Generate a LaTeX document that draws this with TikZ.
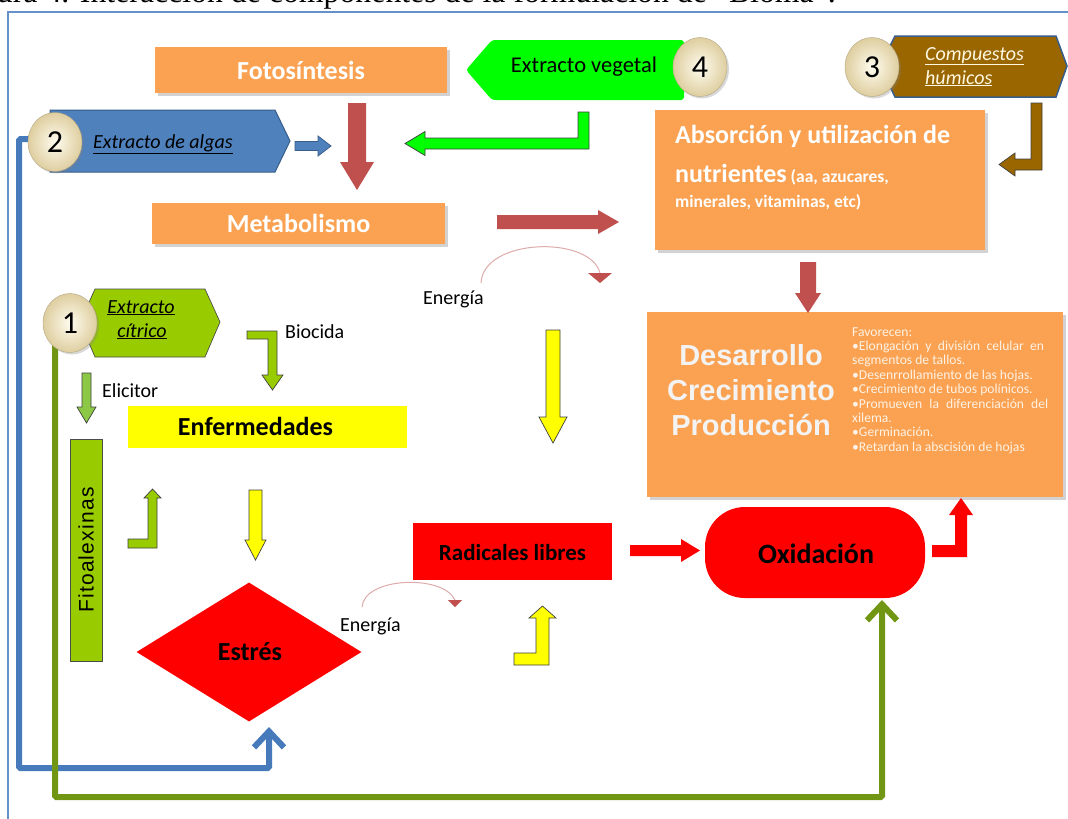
\documentclass[tikz,border=0pt]{standalone}
\usepackage{fontspec}
\setmainfont{Carlito}
\newfontfamily\arialf{Liberation Sans}
\newfontfamily\timesf{Liberation Serif}
\newfontfamily\fitof{Liberation Sans}[LetterSpace=6.0]
\usetikzlibrary{shapes.geometric,arrows.meta,shadows}
\definecolor{orng}{RGB}{250,162,82}
\definecolor{dred}{RGB}{192,80,77}
\definecolor{algablue}{RGB}{79,129,189}
\definecolor{algaedge}{RGB}{56,93,138}
\definecolor{lineblue}{RGB}{70,122,186}
\definecolor{olive}{RGB}{112,150,20}
\definecolor{lime}{RGB}{153,204,0}
\definecolor{elic}{RGB}{140,200,70}
\definecolor{vgreen}{RGB}{0,255,0}
\definecolor{brwn}{RGB}{153,102,0}
\definecolor{yell}{RGB}{255,255,0}
\definecolor{rred}{RGB}{255,0,0}
\definecolor{cream}{RGB}{255,252,238}
\definecolor{creamedge}{RGB}{222,206,160}
\definecolor{frameblue}{RGB}{100,145,200}
\definecolor{whitish}{RGB}{243,243,243}
\definecolor{paletxt}{RGB}{255,242,228}
\definecolor{arcpink}{RGB}{222,170,170}
\definecolor{humtxt}{RGB}{255,248,225}
\begin{document}
\begin{tikzpicture}[x=1pt,y=-1pt,
  box/.style={fill=orng, inner sep=0pt, text=white,
    drop shadow={shadow xshift=2.5pt,shadow yshift=-2.5pt,opacity=.35}},
  blk/.style={draw=black!75, line width=0.7pt, line join=miter},
  circ/.style={ellipse, minimum width=54pt, minimum height=59pt, inner sep=0pt,
    inner color=cream, outer color=creamedge, draw=creamedge!80!black, line width=0.4pt,
    font=\fontsize{32}{36}\selectfont,
    drop shadow={shadow xshift=2pt,shadow yshift=-2pt,opacity=.3}},
  thickln/.style={line width=6pt, rounded corners=1.5pt, -{Straight Barb[length=16pt,width=30pt]}},
  bigb/.style={font=\bfseries\fontsize{26}{30}\selectfont},
  lbl/.style={font=\fontsize{20}{24}\selectfont},
  dtxt/.style={anchor=base west, inner sep=0pt, text=paletxt, font=\fontsize{13.6}{14.4}\selectfont},
  bigd/.style={anchor=base, inner sep=0pt, text=whitish, font=\arialf\bfseries\fontsize{29}{35}\selectfont}
]
\useasboundingbox (0,0) rectangle (1068,819);
\fill[white] (0,0) rectangle (1068,819);
% caption (cut at top) and frame
\node[anchor=base east, inner sep=0pt, font=\timesf\fontsize{31.8}{36}\selectfont] (cap) at (836,2.5)
  {Figura 4. Interacción de componentes de la formulación de “Bioma”.};
\draw[frameblue, line width=1.5pt] (1070,12) -- (8,12) -- (8,821);

% long connectors
\coordinate (c2pos) at (45,139);
\coordinate (bluecorner) at (19,768);
\coordinate (bluetip) at (269,727);
\coordinate (gstart) at (55,345);
\coordinate (gcorner) at (55,797);
\coordinate (gtip) at (882,600);
\draw[thickln, lineblue] (c2pos) -| (bluecorner) -| (bluetip);
\draw[thickln, olive] (gstart) -- (gcorner) -| (gtip);

% boxes
\node[box, minimum width=292pt, minimum height=46pt, bigb] (foto) at (301,70) {Fotosíntesis};
\node[box, minimum width=293pt, minimum height=41pt, bigb] (meta) at (298.5,223.5) {Metabolismo};
\node[box, minimum width=330pt, minimum height=140pt] (absor) at (820,180) {};
\node[anchor=base west, inner sep=0pt, text=white, bigb] (ab1) at (675,143) {Absorción y utilización de};
\node[anchor=base west, inner sep=0pt, text=white, bigb] (ab2) at (675,182)
  {nutrientes\fontsize{17.5}{20}\selectfont\ (aa, azucares,};
\node[anchor=base west, inner sep=0pt, text=white, font=\bfseries\fontsize{17.5}{20}\selectfont] (ab3) at (675,207)
  {minerales, vitaminas, etc)};
\node[box, minimum width=416pt, minimum height=185pt] (desar) at (855,404.5) {};
\node[bigd] (d1) at (751,365) {Desarrollo};
\node[bigd] (d2) at (751,400) {Crecimiento};
\node[bigd] (d3) at (751,435) {Producción};
\node[dtxt] (f0) at (852,336.0) {Favorecen:};
\node[dtxt] (f1) at (852,350.4) {\makebox[192pt][s]{•Elongación y división celular en}};
\node[dtxt] (f2) at (852,364.8) {segmentos de tallos.};
\node[dtxt] (f3) at (852,379.2) {•Desenrrollamiento de las hojas.};
\node[dtxt] (f4) at (852,393.6) {•Crecimiento de tubos polínicos.};
\node[dtxt] (f5) at (852,408.0) {\makebox[196pt][s]{•Promueven la diferenciación del}};
\node[dtxt] (f6) at (852,422.4) {xilema.};
\node[dtxt] (f7) at (852,436.8) {•Germinación.};
\node[dtxt] (f8) at (852,451.2) {•Retardan la abscisión de hojas};

\node[fill=yell, minimum width=279pt, minimum height=42pt, inner sep=0pt] (enf) at (267.5,427) {};
\node[anchor=base, inner sep=0pt, bigb] (enft) at (255.5,435) {Enfermedades};
\node[fill=rred, minimum width=199pt, minimum height=57pt, inner sep=0pt] (radic) at (512.5,551.5) {};
\node[anchor=base, inner sep=0pt, font=\bfseries\fontsize{23}{27}\selectfont] (radict) at (512.5,560) {Radicales libres};
\node[fill=rred, minimum width=220pt, minimum height=91pt, inner sep=0pt, rounded corners=40pt] (oxid) at (815,552.5) {};
\node[anchor=base, inner sep=0pt, font=\bfseries\fontsize{28}{32}\selectfont] (oxidt) at (816,563) {Oxidación};
\node[diamond, fill=rred, minimum width=225pt, minimum height=139pt, inner sep=0pt] (estres) at (249,652) {};
\node[anchor=base, inner sep=0pt, bigb] (estrest) at (250,660) {Estrés};
\node[fill=lime, draw=black!70, line width=.7pt, minimum width=32pt, minimum height=222pt, inner sep=0pt] (fito) at (86,550) {};
\node[rotate=90, inner sep=0pt, font=\fitof\fontsize{21}{24}\selectfont] (fitot) at (fito) {Fitoalexinas};

% block arrows
\fill[dred] (348,103) -- (366,103) -- (366,162) -- (374,162) -- (357,190) -- (340,162) -- (348,162) -- cycle;
\fill[dred] (497,215) -- (598,215) -- (598,210) -- (619,222) -- (598,234) -- (598,229) -- (497,229) -- cycle;
\fill[dred] (800,262) -- (816,262) -- (816,293) -- (821,293) -- (808,313) -- (795,293) -- (800,293) -- cycle;
\fill[rred] (630,545) -- (681,545) -- (681,539) -- (700,550.5) -- (681,562) -- (681,556) -- (630,556) -- cycle;
\fill[rred] (932,545) -- (955,545) -- (955,515) -- (949,515) -- (961,498) -- (973,515) -- (967,515) -- (967,557) -- (932,557) -- cycle;
\filldraw[fill=algablue, draw=algaedge, line width=0.8pt] (295,141.5) -- (318,141.5) -- (318,136) -- (331,146) -- (318,156) -- (318,150.5) -- (295,150.5) -- cycle;
\filldraw[fill=vgreen, blk] (578,112) -- (589,112) -- (589,149) -- (425,149) -- (425,155.5) -- (405,143.5) -- (425,131.5) -- (425,138) -- (578,138) -- cycle;
\filldraw[fill=brwn, blk] (1031,103) -- (1042,103) -- (1042,170) -- (1015,170) -- (1015,176) -- (999,164.5) -- (1015,153) -- (1015,159) -- (1031,159) -- cycle;
\filldraw[fill=lime, blk] (247,331) -- (277,331) -- (277,375) -- (283,375) -- (272.5,390) -- (262,375) -- (268,375) -- (268,339) -- (247,339) -- cycle;
\filldraw[fill=elic, blk] (82,373) -- (91,373) -- (91,407) -- (96,407) -- (86.5,423) -- (77,407) -- (82,407) -- cycle;
\filldraw[fill=lime, blk] (128,539) -- (148,539) -- (148,498) -- (144,498) -- (152.5,489) -- (161,498) -- (157,498) -- (157,548) -- (128,548) -- cycle;
\filldraw[fill=yell, blk] (249,490) -- (262,490) -- (262,540) -- (266,540) -- (255.5,560) -- (245,540) -- (249,540) -- cycle;
\filldraw[fill=yell, blk] (546,330) -- (560,330) -- (560,417) -- (567,417) -- (553,443) -- (539,417) -- (546,417) -- cycle;
\filldraw[fill=yell, blk] (514,653) -- (536,653) -- (536,618) -- (529,618) -- (542.5,606) -- (556,618) -- (549,618) -- (549,665) -- (514,665) -- cycle;

% energy arcs
\draw[arcpink, line width=1pt] (481,283) .. controls (483,238) and (590,235) .. (600,273);
\fill[dred] (588,273) -- (612,273) -- (600,283) -- cycle;
\node[anchor=base west, inner sep=0pt, lbl] (en1) at (423,304) {Energía};
\draw[arcpink, line width=1pt] (362,607) .. controls (364,577) and (443,574) .. (455,600);
\fill[dred] (448,600) -- (462,600) -- (455,607) -- cycle;
\node[anchor=base west, inner sep=0pt, lbl] (en2) at (340,631) {Energía};

\node[anchor=base west, inner sep=0pt, lbl] (bioc) at (285,338) {Biocida};
\node[anchor=base west, inner sep=0pt, lbl] (elict) at (102,397) {Elicitor};

% source shapes
\filldraw[fill=algablue, draw=algaedge, line width=1pt] (50,110) -- (275,110) -- (290,141) -- (275,172) -- (50,172) -- cycle;
\node[anchor=base west, inner sep=0pt, font=\itshape\fontsize{20}{24}\selectfont] (algt) at (93,148) {\underline{Extracto de algas}};
\fill[vgreen, rounded corners=3pt] (466,70) -- (492,40) -- (684,40) -- (684,100) -- (492,100) -- cycle;
\node[anchor=base, inner sep=0pt, font=\fontsize{22.5}{26}\selectfont] (vegt) at (584,72) {Extracto vegetal};
\filldraw[fill=brwn, draw=algaedge, line width=1.5pt] (880,66) -- (895,36) -- (1056,36) -- (1067,66) -- (1056,97) -- (895,97) -- cycle;
\node[anchor=base west, inner sep=0pt, text=humtxt, font=\itshape\fontsize{20}{24}\selectfont] (hum1) at (925,60) {\underline{Compuestos}};
\node[anchor=base west, inner sep=0pt, text=humtxt, font=\itshape\fontsize{20}{24}\selectfont] (hum2) at (925,84) {\underline{húmicos}};
\filldraw[fill=lime, draw=black!70, line width=.7pt] (80,322) -- (95,289) -- (205,289) -- (220,322) -- (205,357) -- (95,357) -- cycle;
\node[anchor=base, inner sep=0pt, font=\itshape\fontsize{20}{24}\selectfont] (cit1) at (141,313) {\underline{Extracto}};
\node[anchor=base, inner sep=0pt, font=\itshape\fontsize{20}{24}\selectfont] (cit2) at (142,337) {\underline{cítrico}};

% numbered circles
\node[circ] (c2) at (55,142) {2};
\node[circ] (c1) at (70,323) {1};
\node[circ] (c4) at (700,67) {4};
\node[circ] (c3) at (872,67) {3};
\end{tikzpicture}
\end{document}
